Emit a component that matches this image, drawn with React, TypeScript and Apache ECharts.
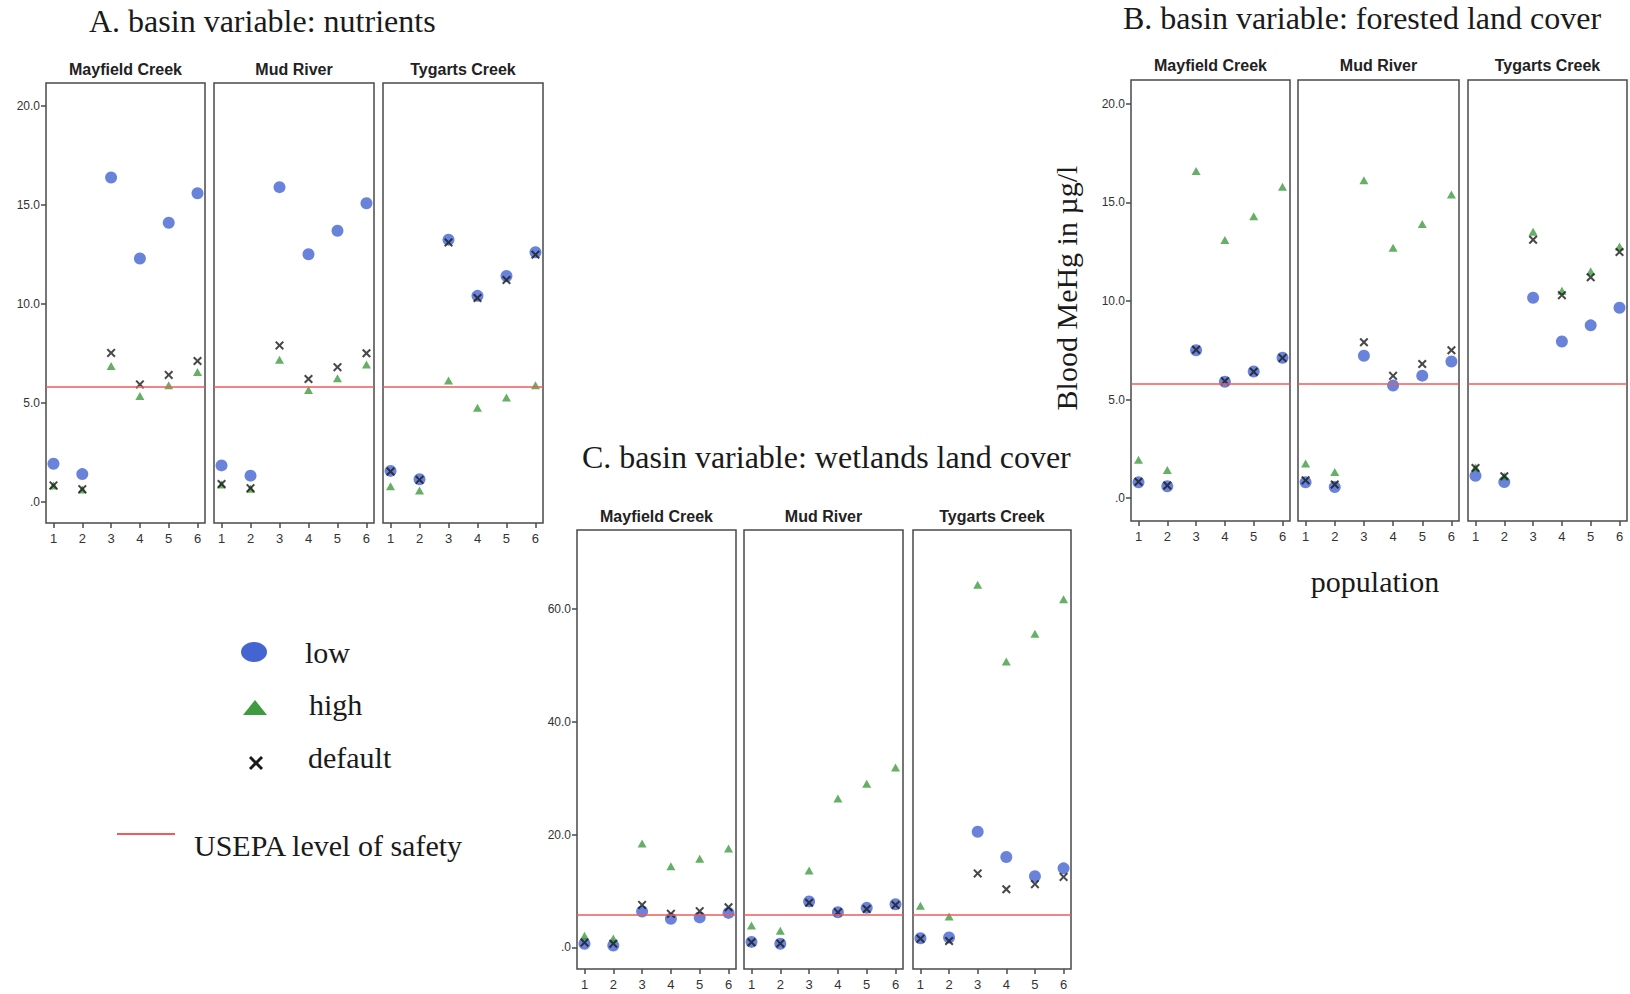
import React, { useEffect, useRef } from 'react';
import * as echarts from 'echarts';

// ---------------- data ----------------
const POPULATIONS = [1, 2, 3, 4, 5, 6];
const RIVERS = ['Mayfield Creek', 'Mud River', 'Tygarts Creek'];
const USEPA_LEVEL = 5.8;

// default scenario (identical in every panel)
const defaultMayfield = [0.83, 0.64, 7.52, 5.93, 6.41, 7.11];
const defaultMud = [0.9, 0.69, 7.9, 6.2, 6.8, 7.5];
const defaultTygarts = [1.53, 1.11, 13.1, 10.29, 11.2, 12.48];

// A. nutrients
const nutrientsLowMayfield = [1.92, 1.4, 16.38, 12.29, 14.09, 15.58];
const nutrientsLowMud = [1.84, 1.32, 15.89, 12.5, 13.69, 15.08];
const nutrientsLowTygarts = [1.56, 1.14, 13.24, 10.4, 11.4, 12.6];
const nutrientsHighMayfield = [0.83, 0.62, 6.86, 5.34, 5.89, 6.55];
const nutrientsHighMud = [0.87, 0.66, 7.17, 5.65, 6.24, 6.93];
const nutrientsHighTygarts = [0.78, 0.57, 6.13, 4.75, 5.27, 5.89];

// B. forested land cover
const forestLowMayfield = [0.8, 0.6, 7.5, 5.9, 6.42, 7.12];
const forestLowMud = [0.8, 0.56, 7.22, 5.71, 6.21, 6.93];
const forestLowTygarts = [1.13, 0.82, 10.16, 7.94, 8.76, 9.65];
const forestHighMayfield = [1.94, 1.42, 16.58, 13.09, 14.29, 15.79];
const forestHighMud = [1.75, 1.32, 16.12, 12.7, 13.9, 15.4];
const forestHighTygarts = [1.55, 1.11, 13.5, 10.52, 11.5, 12.76];

// C. wetlands land cover
const wetlandsLowMayfield = [0.64, 0.32, 6.35, 5.06, 5.3, 6.1];
const wetlandsLowMud = [0.96, 0.64, 8.14, 6.22, 6.99, 7.63];
const wetlandsLowTygarts = [1.6, 1.73, 20.5, 16.0, 12.6, 14.0];
const wetlandsHighMayfield = [2.05, 1.54, 18.4, 14.36, 15.7, 17.5];
const wetlandsHighMud = [3.85, 2.95, 13.6, 26.4, 29.0, 31.9];
const wetlandsHighTygarts = [7.37, 5.45, 64.3, 50.7, 55.6, 61.7];

const Y_TICKS_SMALL = [0, 5, 10, 15, 20];
const Y_TICKS_LARGE = [0, 20, 40, 60];

const PANEL_TITLES = [
  'A. basin variable: nutrients',
  'B. basin variable: forested land cover',
  'C. basin variable: wetlands land cover',
];
const LEGEND_LABELS = ['low', 'high', 'default', 'USEPA level of safety'];
const Y_AXIS_TITLE = 'Blood MeHg in µg/l';
const X_AXIS_TITLE = 'population';

// ---------------- styles / layout ----------------
const BLUE = '#4464d2';
const GREEN = '#3e9b40';
const BLACK = '#1a1a1a';
const RED = '#f05a5a';
const BOX = '#4a4a4a';
const SERIF = '"Liberation Serif", "Times New Roman", serif';
const SANS = '"Liberation Sans", Arial, sans-serif';
const X_PATH =
  'path://M0,1.6L1.6,0L5,3.4L8.4,0L10,1.6L6.6,5L10,8.4L8.4,10L5,6.6L1.6,10L0,8.4L3.4,5Z';

const PANELS = [
  {
    low: [nutrientsLowMayfield, nutrientsLowMud, nutrientsLowTygarts],
    high: [nutrientsHighMayfield, nutrientsHighMud, nutrientsHighTygarts],
    top: 83, height: 440, lefts: [46, 214, 383], widths: [159, 160, 160],
    yMin: -1.07, yMax: 21.15, ticks: Y_TICKS_SMALL, subTitleY: 69,
    title: { x: 89, y: 21 },
  },
  {
    low: [forestLowMayfield, forestLowMud, forestLowTygarts],
    high: [forestHighMayfield, forestHighMud, forestHighTygarts],
    top: 80, height: 441, lefts: [1131, 1298, 1468], widths: [159, 161, 159],
    yMin: -1.16, yMax: 21.2, ticks: Y_TICKS_SMALL, subTitleY: 65,
    title: { x: 1123, y: 18 },
  },
  {
    low: [wetlandsLowMayfield, wetlandsLowMud, wetlandsLowTygarts],
    high: [wetlandsHighMayfield, wetlandsHighMud, wetlandsHighTygarts],
    top: 530, height: 439, lefts: [577, 744, 913], widths: [159, 159, 158],
    yMin: -3.85, yMax: 74.0, ticks: Y_TICKS_LARGE, subTitleY: 516,
    title: { x: 582, y: 457 },
  },
];
const DEFAULTS = [defaultMayfield, defaultMud, defaultTygarts];

const pts = (arr: number[]) => POPULATIONS.map((p, i) => [p, arr[i]]);

export default function App() {
  const ref = useRef<HTMLDivElement>(null);
  useEffect(() => {
    const chart = echarts.init(ref.current!, null, { renderer: 'svg' });
    const grid: any[] = [];
    const xAxis: any[] = [];
    const yAxis: any[] = [];
    const series: any[] = [];
    const graphic: any[] = [];

    PANELS.forEach((pn, pi) => {
      graphic.push({
        type: 'text', x: pn.title.x, y: pn.title.y,
        style: { text: PANEL_TITLES[pi], font: `32px ${SERIF}`, fill: BLACK, align: 'left', verticalAlign: 'middle' },
      });
      RIVERS.forEach((river, ri) => {
        const gi = grid.length;
        grid.push({
          left: pn.lefts[ri], top: pn.top, width: pn.widths[ri], height: pn.height,
          show: true, borderColor: BOX, borderWidth: 1.5, backgroundColor: 'transparent',
        });
        xAxis.push({
          type: 'value', gridIndex: gi, min: 0.74, max: 6.26, position: 'bottom',
          splitLine: { show: false }, axisLine: { show: false, onZero: false },
          axisTick: { show: true, length: 5, customValues: POPULATIONS, lineStyle: { color: BOX, width: 1.5 } },
          axisLabel: { show: true, customValues: POPULATIONS, margin: 9, fontSize: 13, fontFamily: SANS, color: '#333' },
        });
        const first = ri === 0;
        yAxis.push({
          type: 'value', gridIndex: gi, min: pn.yMin, max: pn.yMax, position: 'left',
          splitLine: { show: false }, axisLine: { show: false, onZero: false },
          axisTick: { show: first, length: 5, customValues: pn.ticks, lineStyle: { color: BOX, width: 1.5 } },
          axisLabel: {
            show: first, customValues: pn.ticks, margin: 6, fontSize: 12, fontFamily: SANS, color: '#333',
            formatter: (v: number) => (v === 0 ? '.0' : v.toFixed(1)),
          },
        });
        series.push({
          type: 'scatter', xAxisIndex: gi, yAxisIndex: gi, name: 'low', z: 2,
          symbol: 'circle', symbolSize: 12, itemStyle: { color: BLUE },
          data: pts(pn.low[ri]),
          markLine: {
            silent: true, symbol: ['none', 'none'], label: { show: false },
            lineStyle: { color: RED, width: 1.5, type: 'solid' },
            data: [{ yAxis: USEPA_LEVEL }],
          },
        });
        series.push({
          type: 'scatter', xAxisIndex: gi, yAxisIndex: gi, name: 'high', z: 3,
          symbol: 'triangle', symbolSize: [9, 8], itemStyle: { color: GREEN },
          data: pts(pn.high[ri]),
        });
        series.push({
          type: 'scatter', xAxisIndex: gi, yAxisIndex: gi, name: 'default', z: 4,
          symbol: X_PATH, symbolSize: 9, itemStyle: { color: BLACK },
          data: pts(DEFAULTS[ri]),
        });
        graphic.push({
          type: 'text', x: pn.lefts[ri] + pn.widths[ri] / 2, y: pn.subTitleY,
          style: { text: river, font: `bold 16px ${SANS}`, fill: '#222', align: 'center', verticalAlign: 'middle' },
        });
      });
    });

    // axis titles (panel B)
    graphic.push({
      type: 'text', x: 1066, y: 288, rotation: Math.PI / 2,
      style: { text: Y_AXIS_TITLE, font: `30px ${SERIF}`, fill: BLACK, align: 'center', verticalAlign: 'middle' },
    });
    graphic.push({
      type: 'text', x: 1375, y: 581,
      style: { text: X_AXIS_TITLE, font: `30px ${SERIF}`, fill: BLACK, align: 'center', verticalAlign: 'middle' },
    });

    // legend
    graphic.push({ type: 'ellipse', shape: { cx: 254, cy: 652, rx: 13, ry: 10 }, style: { fill: BLUE } });
    graphic.push({ type: 'polygon', shape: { points: [[243, 715], [255, 700], [267, 715]] }, style: { fill: GREEN } });
    graphic.push({ type: 'line', shape: { x1: 250, y1: 757, x2: 262, y2: 769 }, style: { stroke: BLACK, lineWidth: 3 } });
    graphic.push({ type: 'line', shape: { x1: 262, y1: 757, x2: 250, y2: 769 }, style: { stroke: BLACK, lineWidth: 3 } });
    graphic.push({ type: 'line', shape: { x1: 117, y1: 834, x2: 175, y2: 834 }, style: { stroke: RED, lineWidth: 2 } });
    const legendPos = [
      [305, 652], [309, 704], [308, 757], [194, 845],
    ];
    LEGEND_LABELS.forEach((t, i) => {
      graphic.push({
        type: 'text', x: legendPos[i][0], y: legendPos[i][1],
        style: { text: t, font: `30px ${SERIF}`, fill: BLACK, align: 'left', verticalAlign: 'middle' },
      });
    });

    chart.setOption({
      animation: false,
      backgroundColor: '#fff',
      grid, xAxis, yAxis, series, graphic,
    });
    return () => chart.dispose();
  }, []);
  return (
    <div
      ref={ref}
      style={{ position: 'fixed', left: 0, top: 0, width: 1630, height: 994, background: '#fff' }}
    />
  );
}
